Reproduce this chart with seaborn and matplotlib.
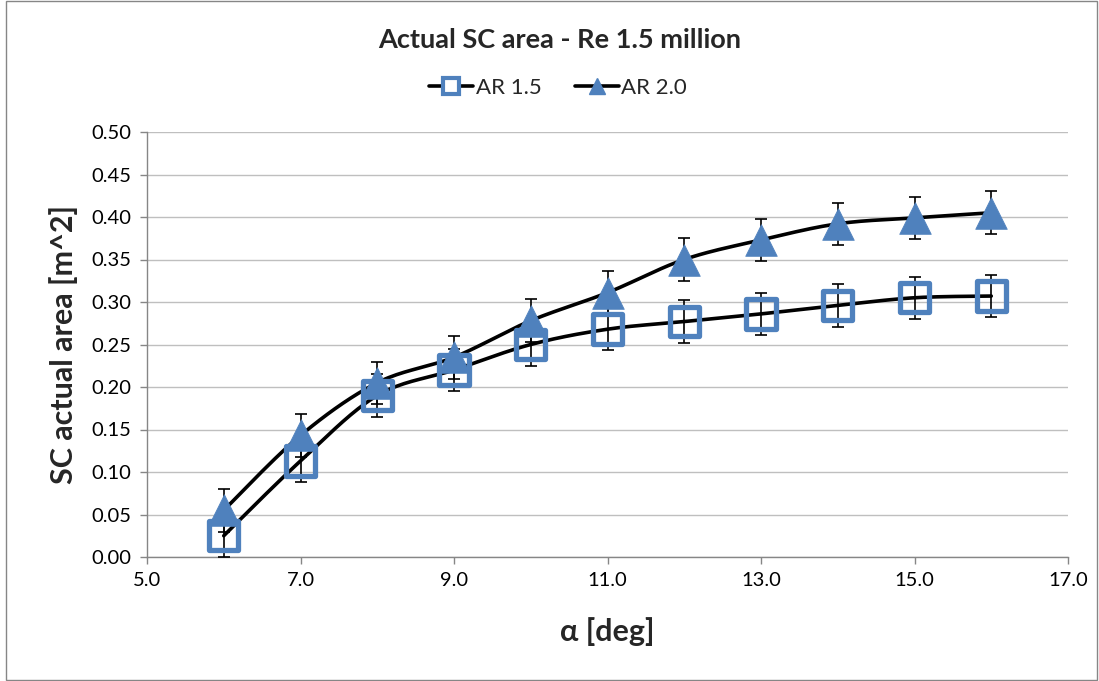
import numpy as np
import matplotlib
matplotlib.use("Agg")
import matplotlib.pyplot as plt
import seaborn as sns
import pandas as pd
from matplotlib.lines import Line2D

# ---- data ----
alpha = [6, 7, 8, 9, 10, 11, 12, 13, 14, 15, 16]
ar15 = [0.025, 0.113, 0.190, 0.220, 0.250, 0.268, 0.277, 0.286, 0.296, 0.305, 0.307]
ar20 = [0.055, 0.143, 0.205, 0.235, 0.278, 0.311, 0.350, 0.373, 0.392, 0.399, 0.405]
err = 0.025
series_names = ["AR 1.5", "AR 2.0"]
x_ticks = [5.0, 7.0, 9.0, 11.0, 13.0, 15.0, 17.0]
y_ticks = [0.00, 0.05, 0.10, 0.15, 0.20, 0.25, 0.30, 0.35, 0.40, 0.45, 0.50]

sns.set_theme(style="white")
plt.rcParams['font.family'] = ['Lato', 'DejaVu Sans']

BLUE = "#4F81BD"


def smooth(xs, ys, n=20, tension=0.5):
    # Catmull-Rom style curve through the points (Excel "smoothed line")
    xs = np.asarray(xs, float); ys = np.asarray(ys, float)
    px = np.concatenate([[xs[0]], xs, [xs[-1]]])
    py = np.concatenate([[ys[0]], ys, [ys[-1]]])
    ox, oy = [], []
    for i in range(1, len(px) - 2):
        p0 = np.array([px[i - 1], py[i - 1]]); p1 = np.array([px[i], py[i]])
        p2 = np.array([px[i + 1], py[i + 1]]); p3 = np.array([px[i + 2], py[i + 2]])
        c1 = p1 + (p2 - p0) * tension / 3
        c2 = p2 - (p3 - p1) * tension / 3
        t = np.linspace(0, 1, n, endpoint=(i == len(px) - 3))[:, None]
        pts = (1 - t) ** 3 * p1 + 3 * (1 - t) ** 2 * t * c1 + 3 * (1 - t) * t ** 2 * c2 + t ** 3 * p2
        ox.extend(pts[:, 0]); oy.extend(pts[:, 1])
    return ox, oy


fig = plt.figure(figsize=(10.99, 6.81), dpi=100)
ax = fig.add_axes([147 / 1099, 1 - 557 / 681, 921 / 1099, 425 / 681])

for ys in (ar15, ar20):
    sx, sy = smooth(alpha, ys)
    sns.lineplot(x=sx, y=sy, ax=ax, color="black", lw=2.6, sort=False, zorder=2)
    ax.errorbar(alpha, ys, yerr=err, fmt="none", ecolor="black", elinewidth=1.2,
                capsize=4, capthick=1.2, zorder=3)

df15 = pd.DataFrame({"x": alpha, "y": ar15})
df20 = pd.DataFrame({"x": alpha, "y": ar20})
sns.scatterplot(data=df15, x="x", y="y", ax=ax, marker="s", s=450, facecolor="none",
                edgecolor=BLUE, linewidth=3.8, zorder=4)
sns.scatterplot(data=df20, x="x", y="y", ax=ax, marker="^", s=520, color=BLUE,
                edgecolor=BLUE, linewidth=0.5, zorder=5)

ax.set_xlim(5, 17)
ax.set_ylim(0, 0.5)
ax.set_xticks(x_ticks)
ax.set_xticklabels([f"{v:.1f}" for v in x_ticks], fontsize=14.5)
ax.set_yticks(y_ticks)
ax.set_yticklabels([f"{v:.2f}" for v in y_ticks], fontsize=14.5)
ax.tick_params(axis="both", direction="out", length=5, width=1, color="#868686",
               labelcolor="black", left=True, bottom=True, pad=6)
ax.grid(axis="y", color="#BFBFBF", lw=1)
ax.grid(axis="x", visible=False)
for s in ("top", "right"):
    ax.spines[s].set_visible(False)
for s in ("left", "bottom"):
    ax.spines[s].set_color("#868686")
    ax.spines[s].set_linewidth(1)

ax.set_xlabel("α [deg]", fontsize=22, fontweight="bold", labelpad=20)
ax.set_ylabel("SC actual area [m^2]", fontsize=22, fontweight="bold", labelpad=10)
fig.text(0.5 + 10 / 1099, 1 - 40 / 681, "Actual SC area - Re 1.5 million", ha="center",
         va="center", fontsize=19.5, fontweight="bold")

h1 = Line2D([], [], color="black", lw=2.6, marker="s", markersize=12, markerfacecolor="white",
            markeredgecolor=BLUE, markeredgewidth=3)
h2 = Line2D([], [], color="black", lw=2.6, marker="^", markersize=12, markerfacecolor=BLUE,
            markeredgecolor=BLUE)
fig.legend([h1, h2], series_names, loc="center", bbox_to_anchor=(558 / 1099, 1 - 88 / 681),
           ncol=2, frameon=False, fontsize=16, handlelength=2.0, handletextpad=0.1,
           columnspacing=1.5)

fig.patches.append(plt.Rectangle((6 / 1099, 0.001), 1 - 8 / 1099, 0.998, transform=fig.transFigure,
                                 fill=False, edgecolor="#868686", lw=1))

fig.savefig("out.png", dpi=100)
